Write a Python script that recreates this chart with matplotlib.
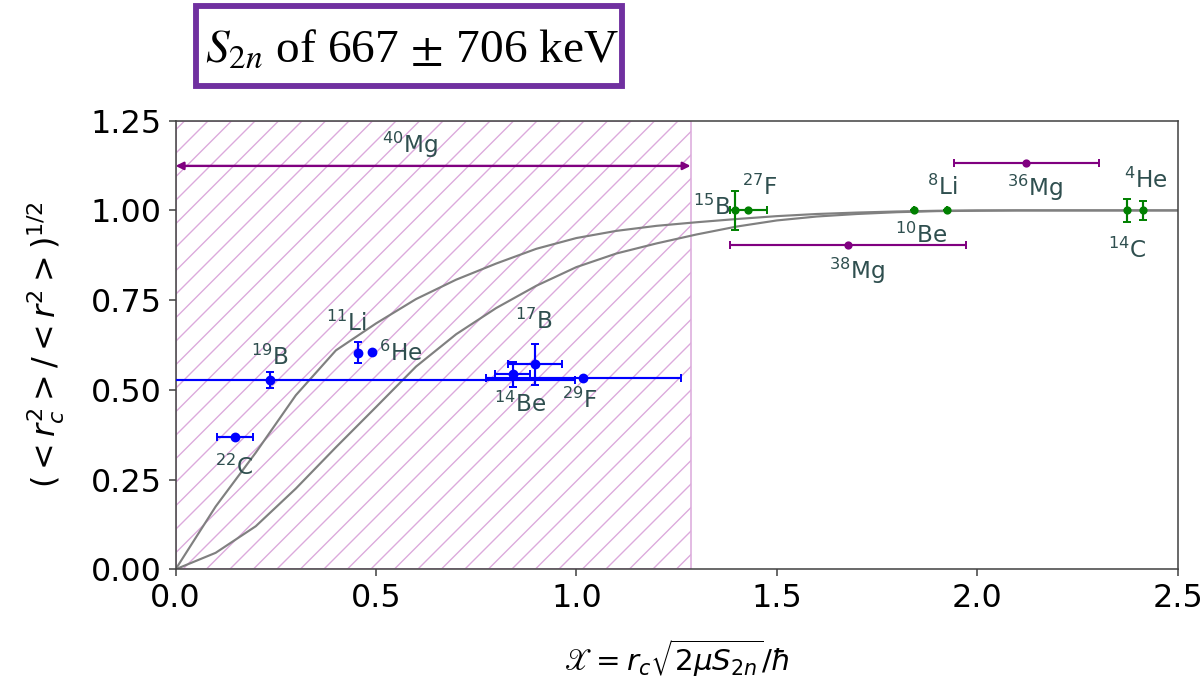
import matplotlib
matplotlib.use("Agg")
import matplotlib.pyplot as plt
from matplotlib.patches import Rectangle
from matplotlib.transforms import Bbox, TransformedBbox

# halo candidates (blue)
halo_names = ["22C", "19B", "11Li", "6He", "14Be", "17B", "29F"]
halo_x = [0.148, 0.236, 0.456, 0.489, 0.841, 0.897, 1.017]
halo_y = [0.369, 0.528, 0.604, 0.606, 0.543, 0.571, 0.534]
halo_xerr = [0.044, 0.76, 0.0, 0.0, 0.044, 0.067, 0.243]
halo_yerr = [0.0, 0.023, 0.029, 0.0, 0.036, 0.057, 0.0]

# well bound nuclei (green)
bound_names = ["15B", "27F", "10Be", "8Li", "14C", "4He"]
bound_x = [1.396, 1.429, 1.843, 1.924, 2.374, 2.414]
bound_y = [1.0, 1.0, 1.0, 1.0, 1.0, 1.0]
bound_xerr = [0.0, 0.046, 0.0, 0.0, 0.0, 0.0]
bound_yerr = [0.055, 0.0, 0.0, 0.0, 0.031, 0.027]

# Mg isotopes (purple)
mg_names = ["36Mg", "38Mg"]
mg_x = [2.122, 1.677]
mg_y = [1.1315, 0.904]
mg_xerr = [0.181, 0.294]

# 40Mg: only an upper limit on x, shown as a range
mg40_xmax = 1.285
mg40_y = 1.124

# model curves
curve_x = [0.0, 0.1, 0.2, 0.3, 0.4, 0.5, 0.6, 0.7, 0.8, 0.9, 1.0, 1.1, 1.2,
           1.3, 1.4, 1.5, 1.6, 1.7, 1.8, 1.9, 2.0, 2.1, 2.2, 2.3, 2.4, 2.5]
curve_upper = [0.0, 0.175, 0.325, 0.485, 0.61, 0.685, 0.753, 0.807, 0.852,
               0.893, 0.923, 0.943, 0.957, 0.967, 0.976, 0.984, 0.99, 0.994,
               0.997, 0.999, 1.0, 1.0, 1.0, 1.0, 1.0, 1.0]
curve_lower = [0.0, 0.046, 0.12, 0.225, 0.34, 0.452, 0.565, 0.655, 0.728,
               0.79, 0.842, 0.88, 0.908, 0.933, 0.955, 0.972, 0.983, 0.99,
               0.995, 0.998, 0.999, 1.0, 1.0, 1.0, 1.0, 1.0]

# where each isotope label sits (x, y of the letters' baseline, alignment)
label_pos = {
    "22C": (0.146, 0.262, "center"),
    "19B": (0.236, 0.570, "center"),
    "11Li": (0.427, 0.664, "center"),
    "6He": (0.508, 0.580, "left"),
    "14Be": (0.859, 0.438, "center"),
    "17B": (0.894, 0.670, "center"),
    "29F": (1.009, 0.449, "center"),
    "15B": (1.384, 0.987, "right"),
    "27F": (1.458, 1.044, "center"),
    "10Be": (1.861, 0.909, "center"),
    "8Li": (1.913, 1.044, "center"),
    "14C": (2.375, 0.867, "center"),
    "4He": (2.421, 1.062, "center"),
    "36Mg": (2.144, 1.040, "center"),
    "38Mg": (1.700, 0.809, "center"),
    "40Mg": (0.585, 1.160, "center"),
}


def iso_label(name):
    mass = "".join(c for c in name if c.isdigit())
    elem = name[len(mass):]
    return r"$^{%s}$%s" % (mass, elem)


dpi = 141
fig = plt.figure(figsize=(1201 / dpi, 681 / dpi), dpi=dpi)
ax = fig.add_axes([0.1462, 0.164, 0.8343, 0.6588])

plt.rcParams["hatch.linewidth"] = 0.7
ax.axvspan(0, mg40_xmax, facecolor="none", edgecolor="#dcaadc", hatch="//",
           lw=0.8, zorder=0)

ax.plot(curve_x, curve_upper, color="grey", lw=1.1, zorder=1)
ax.plot(curve_x, curve_lower, color="grey", lw=1.1, zorder=1)

ax.errorbar(halo_x, halo_y, xerr=halo_xerr, yerr=halo_yerr, fmt="o",
            color="blue", ms=4, elinewidth=1.1, capsize=2, zorder=3)
ax.errorbar(bound_x, bound_y, xerr=bound_xerr, yerr=bound_yerr, fmt="o",
            color="green", ms=3.2, elinewidth=1.1, capsize=2, zorder=3)
ax.errorbar(mg_x, mg_y, xerr=mg_xerr, fmt="o", color="purple", ms=3.2,
            elinewidth=1.1, capsize=2, zorder=3)

ax.annotate("", xy=(0, mg40_y), xytext=(mg40_xmax, mg40_y),
            arrowprops=dict(arrowstyle="<|-|>", color="purple", lw=1.2,
                            mutation_scale=8, shrinkA=0, shrinkB=0))

for name, (lx, ly, ha) in label_pos.items():
    ax.text(lx, ly, iso_label(name), ha=ha, va="baseline", fontsize=11.8,
            color="darkslategray")

ax.set_xlim(0, 2.5)
ax.set_ylim(0, 1.25)
ax.set_xticks([0.0, 0.5, 1.0, 1.5, 2.0, 2.5])
ax.set_yticks([0.0, 0.25, 0.5, 0.75, 1.0, 1.25])
ax.tick_params(labelsize=16.3, color="#444444")
for sp in ax.spines.values():
    sp.set_color("#444444")

ax.set_xlabel(r"$\mathscr{X} = r_c\sqrt{2\mu S_{2n}}/\hbar$", fontsize=15,
              labelpad=12)
ax.set_ylabel(r"$(<r_c^2>/<r^2>)^{1/2}$", fontsize=16.3, labelpad=12)

# boxed separation energy note above the plot, text cut off at the frame
box = (196 / 1201, 1 - 86 / 681, 426 / 1201, 80 / 681)
fig.add_artist(Rectangle(box[:2], box[2], box[3], transform=fig.transFigure,
                         fill=False, edgecolor="#7030A0", lw=3.0, zorder=5))
note = fig.text(205 / 1201, 1 - 62 / 681, r"$S_{2n}$ of 667$\,\pm\,$706 keV.",
                fontsize=24.2, family="Liberation Serif",
                math_fontfamily="stix", ha="left", va="baseline")
note.set_clip_box(TransformedBbox(
    Bbox.from_bounds(box[0], box[1], box[2], box[3]), fig.transFigure))
note.set_clip_on(True)

fig.savefig("out.png", dpi=dpi)
